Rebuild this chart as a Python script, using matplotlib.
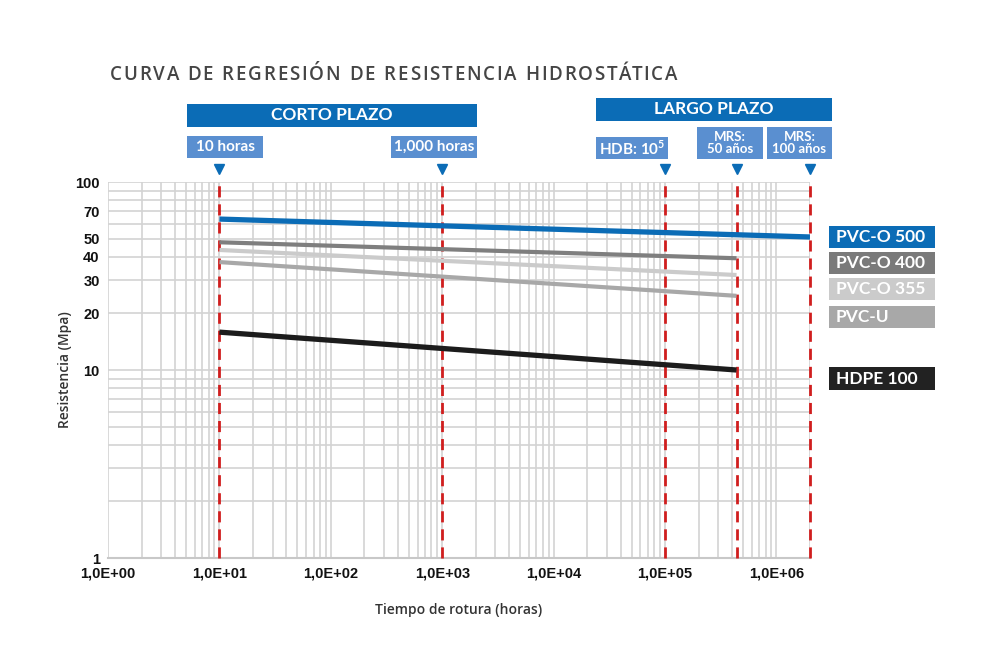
import matplotlib
matplotlib.use("Agg")
import matplotlib.pyplot as plt
import matplotlib.transforms as mtransforms
from matplotlib.patches import Rectangle
from matplotlib.ticker import FixedLocator, LogLocator, NullFormatter

plt.rcParams['mathtext.fontset'] = 'custom'
plt.rcParams['mathtext.rm'] = 'Lato:bold'
plt.rcParams['mathtext.bf'] = 'Lato:bold'

# ---------------- data ----------------
series_names = ["PVC-O 500", "PVC-O 400", "PVC-O 355", "PVC-U", "HDPE 100"]
series_x_start = [10, 10, 10, 10, 10]
series_x_end = [2.0e6, 4.38e5, 4.38e5, 4.38e5, 4.38e5]
series_y_start = [63.5, 47.8, 43.5, 37.5, 15.9]
series_y_end = [51.0, 39.3, 32.0, 24.8, 10.0]
series_colors = ["#0b6cb6", "#7f7f7f", "#cbcbcb", "#a8a8a8", "#1c1c1c"]
series_lw = [3.8, 3.0, 3.0, 3.0, 3.8]

marker_x = [10, 1000, 1e5, 4.38e5, 2.0e6]
marker_labels = ["10 horas", "1,000 horas", "HDB: 10$^{5}$", "MRS:\n50 años", "MRS:\n100 años"]

x_ticks = [1, 10, 100, 1e3, 1e4, 1e5, 1e6]
x_tick_labels = ["1,0E+00", "1,0E+01", "1,0E+02", "1,0E+03", "1,0E+04", "1,0E+05", "1,0E+06"]
y_ticks = [1, 10, 20, 30, 40, 50, 70, 100]
y_tick_labels = ["1", "10", "20", "30", "40", "50", "70", "100"]

title_text = "CURVA DE REGRESIÓN DE RESISTENCIA HIDROSTÁTICA"

# ---------------- figure ----------------
W, H = 1000, 663
fig = plt.figure(figsize=(W / 100, H / 100), dpi=100)
fig.patch.set_facecolor("white")

def fx(px):
    return px / W

def fy(py):
    return 1 - py / H

ax = fig.add_axes([fx(108), fy(558), fx(810) - fx(108), fy(182) - fy(558)])
ax.set_xscale("log")
ax.set_yscale("log")
ax.set_xlim(1, 2.0e6)
ax.set_ylim(1, 100)

ax.xaxis.set_major_locator(FixedLocator(x_ticks))
ax.xaxis.set_minor_locator(LogLocator(base=10, subs=range(2, 10), numticks=20))
ax.xaxis.set_minor_formatter(NullFormatter())
ax.set_xticks(x_ticks)
ax.set_xticklabels(x_tick_labels, fontfamily="Liberation Sans", fontweight="bold", fontsize=10.5, color="#111111")
ax.yaxis.set_minor_locator(LogLocator(base=10, subs=range(2, 10), numticks=20))
ax.yaxis.set_minor_formatter(NullFormatter())
ax.set_yticks(y_ticks)
ax.set_yticklabels(y_tick_labels, fontfamily="Liberation Sans", fontweight="bold", fontsize=10.5, color="#111111")
ax.tick_params(which="both", length=0, pad=6)

ax.grid(True, which="both", color="#d3d3d3", lw=1.2)
ax.set_axisbelow(True)
for s in ["top", "right", "left"]:
    ax.spines[s].set_visible(False)
ax.spines["bottom"].set_color("#c8c8c8")
ax.spines["bottom"].set_linewidth(1.5)

# red dashed markers
for mx in marker_x:
    ax.axvline(mx, color="#d01e1e", lw=2.0, ls=(0, (4, 2.5)), zorder=3, clip_on=False)

# regression lines
for n, xs, xe, ys, ye, c, lw in zip(series_names, series_x_start, series_x_end,
                                     series_y_start, series_y_end, series_colors, series_lw):
    ax.plot([xs, xe], [ys, ye], color=c, lw=lw, solid_capstyle="butt", zorder=4)

ax.set_xlabel("Tiempo de rotura (horas)", fontfamily="Open Sans", fontweight="semibold",
              fontsize=10, color="#333333", labelpad=16)
ax.set_ylabel("Resistencia (Mpa)", fontfamily="Open Sans", fontweight="semibold",
              fontsize=10, color="#333333", labelpad=2)

# title with letter spacing (drawn char by char)
renderer = fig.canvas.get_renderer()
title_kw = dict(fontfamily="Open Sans", fontweight="semibold", fontsize=13.5, color="#454545",
                va="baseline", ha="left")
def prefix_width(s):
    if not s:
        return 0.0
    t = fig.text(0, 0, s.replace(" ", "\u00a0") + "|", **title_kw)
    w_all = t.get_window_extent(renderer).width
    t.remove()
    t2 = fig.text(0, 0, "|", **title_kw)
    w_bar = t2.get_window_extent(renderer).width
    t2.remove()
    return w_all - w_bar

natural = prefix_width(title_text)
target_w = 677 - 110
n_gaps = len(title_text) - 1
spacing = (target_w - natural) / n_gaps
for i, ch in enumerate(title_text):
    if ch == " ":
        continue
    xpix = 110 + prefix_width(title_text[:i]) + i * spacing
    fig.text(fx(xpix), fy(80), ch, **title_kw)

# header boxes (figure pixel coords)
def box(x0, y0, x1, y1, color, text, fs):
    fig.patches.append(Rectangle((fx(x0), fy(y1)), fx(x1) - fx(x0), fy(y0) - fy(y1),
                                 transform=fig.transFigure, facecolor=color, edgecolor="none"))
    fig.text(fx((x0 + x1) / 2), fy((y0 + y1) / 2), text, ha="center", va="center",
             fontfamily="Lato", fontweight="bold", fontsize=fs, color="white",
             linespacing=1.0)

dark_blue = "#0b6cb6"
light_blue = "#5a8fd0"
box(187, 104, 477, 127, dark_blue, "CORTO PLAZO", 12.5)
box(596, 98, 832, 121, dark_blue, "LARGO PLAZO", 12.5)

box(187, 136, 263, 158, light_blue, marker_labels[0], 11)
box(391, 136, 477, 158, light_blue, marker_labels[1], 11)
box(596, 137, 668, 159, light_blue, marker_labels[2], 11)
box(697, 127, 763, 159, light_blue, marker_labels[3], 9.5)
box(767, 127, 832, 159, light_blue, marker_labels[4], 9.5)

# triangles above markers
trans = mtransforms.blended_transform_factory(ax.transData, fig.transFigure)
for mx in marker_x:
    ax.plot([mx], [fy(169)], marker="v", color=dark_blue, markersize=7, transform=trans,
            clip_on=False, zorder=5)

# legend boxes
legend_y = [(226, 248), (252, 274), (278, 300), (306, 328), (367, 390)]
legend_colors = ["#0b6cb6", "#7a7a7a", "#cbcbcb", "#a8a8a8", "#222222"]
for n, (y0, y1), c in zip(series_names, legend_y, legend_colors):
    fig.patches.append(Rectangle((fx(829), fy(y1)), fx(935) - fx(829), fy(y0) - fy(y1),
                                 transform=fig.transFigure, facecolor=c, edgecolor="none"))
    fig.text(fx(836), fy((y0 + y1) / 2), n, ha="left", va="center",
             fontfamily="Lato", fontweight="bold", fontsize=12.5, color="white")

fig.savefig("out.png", dpi=100)
